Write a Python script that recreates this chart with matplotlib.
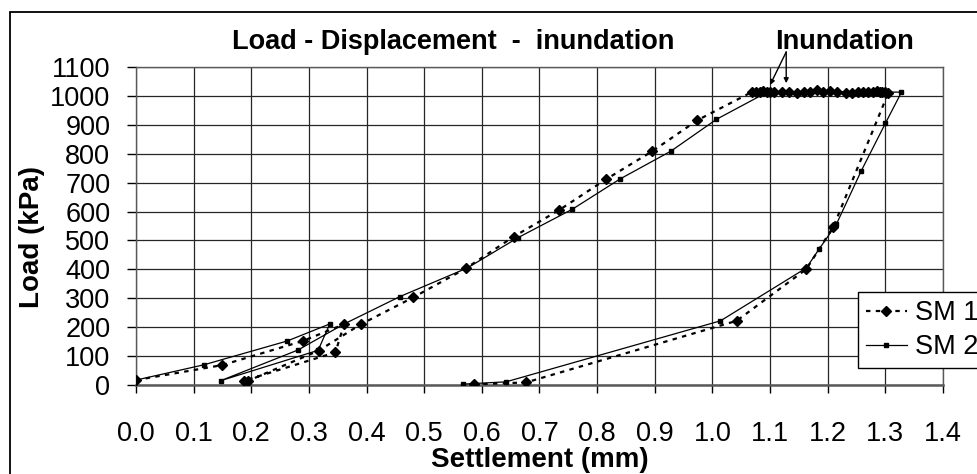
import matplotlib
matplotlib.use("Agg")
import matplotlib.pyplot as plt
from matplotlib.patches import Rectangle

plt.rcParams["font.family"] = ["Liberation Sans", "DejaVu Sans"]

# ── Data ──────────────────────────────────────────────────────────────────────
sm1_x = [0.000, 0.150, 0.289, 0.361, 0.346, 0.188, 0.195, 0.317, 0.390, 0.481,
         0.572, 0.655, 0.734, 0.815, 0.896, 0.974,
         1.068, 1.075, 1.082, 1.088, 1.094, 1.100, 1.106, 1.120, 1.132, 1.146,
         1.158, 1.169, 1.181, 1.192, 1.204, 1.216, 1.232, 1.242, 1.252, 1.262,
         1.270, 1.278, 1.285, 1.290, 1.295, 1.300, 1.305,
         1.210, 1.163, 1.042, 0.677, 0.586]
sm1_y = [17, 69, 152, 210, 113, 15, 15, 119, 210, 303,
         403, 513, 605, 711, 809, 916,
         1013, 1015, 1013, 1016, 1013, 1015, 1012, 1012, 1013, 1010,
         1013, 1012, 1020, 1015, 1016, 1012, 1010, 1011, 1012, 1013,
         1014, 1015, 1016, 1014, 1013, 1012, 1010,
         548, 401, 222, 9, 2]

sm2_x = [0.000, 0.118, 0.262, 0.336, 0.316, 0.147, 0.281, 0.360, 0.458, 0.575,
         0.663, 0.757, 0.840, 0.928, 1.007, 1.097, 1.328,
         1.300, 1.258, 1.215, 1.185, 1.163, 1.014, 0.642, 0.567]
sm2_y = [17, 70, 152, 211, 120, 15, 121, 210, 306, 405,
         510, 608, 713, 809, 919, 1015, 1013,
         905, 740, 556, 470, 405, 222, 11, 3]

x_ticks = [0.0, 0.1, 0.2, 0.3, 0.4, 0.5, 0.6, 0.7, 0.8, 0.9, 1.0, 1.1, 1.2, 1.3, 1.4]
y_ticks = [0, 100, 200, 300, 400, 500, 600, 700, 800, 900, 1000, 1100]

# inundation arrows: common start just under the label, two tips (data units)
arrow_start = (1.128, 1152)
arrow_tips = [(1.100, 1038), (1.128, 1044)]

W, H = 978, 474
fig = plt.figure(figsize=(W / 100, H / 100), dpi=100)
ax = fig.add_axes([136 / W, 1 - 385 / H, 807 / W, 318 / H])

ax.plot(sm1_x, sm1_y, color="black", lw=1.6, ls=(0, (2.0, 2.4)),
        marker="D", ms=5.2, mfc="black", mec="black", label="SM 1", zorder=3)
ax.plot(sm2_x, sm2_y, color="black", lw=0.9, ls="-",
        marker="s", ms=2.4, mfc="black", mec="black", label="SM 2", zorder=3)

ax.set_xlim(0, 1.4)
ax.set_ylim(0, 1100)
ax.set_xticks(x_ticks)
ax.set_xticklabels([f"{v:.1f}" for v in x_ticks])
ax.set_yticks(y_ticks)
ax.grid(True, color="0.15", lw=0.9)
ax.set_axisbelow(True)
for s in ax.spines.values():
    s.set_color("0.35")
    s.set_linewidth(1.0)
ax.spines["bottom"].set_linewidth(1.8)
ax.tick_params(axis="x", direction="out", length=6, width=1, pad=20, labelsize=19.5)
ax.tick_params(axis="y", direction="out", length=6.5, width=1, pad=12, labelsize=19.5)

ax.set_xlabel("Settlement (mm)", fontsize=20, fontweight="bold")
ax.xaxis.set_label_coords(0.5, -0.195)
ax.set_ylabel("Load (kPa)", fontsize=20, fontweight="bold")
ax.yaxis.set_label_coords(-0.113, 0.465)

# Title and annotation
fig.text(453 / W, 1 - 42 / H, "Load - Displacement  -  inundation",
         ha="center", va="center", fontsize=19.5, fontweight="bold")
fig.text(845 / W, 1 - 42 / H, "Inundation",
         ha="center", va="center", fontsize=19.5, fontweight="bold")
for tip in arrow_tips:
    ax.annotate("", xy=tip, xytext=arrow_start, annotation_clip=False,
                arrowprops=dict(arrowstyle="-|>", color="black", lw=1.0,
                                mutation_scale=7, shrinkA=0, shrinkB=0))

leg = fig.legend(loc="upper left", bbox_to_anchor=(858 / W, 1 - 292 / H),
                 borderaxespad=0, fontsize=19.5, frameon=True, fancybox=False,
                 edgecolor="black", framealpha=1, handlelength=1.5,
                 handletextpad=0.3, labelspacing=0.3, borderpad=0.3)
leg.get_frame().set_linewidth(1.0)

# outer chart frame (runs off the right and bottom edges)
fig.add_artist(Rectangle((10 / W, -0.5), 2.0, 1 - 12 / H + 0.5,
                         transform=fig.transFigure, fill=False,
                         ec="black", lw=1.3, zorder=0))

fig.savefig("out.png", dpi=100)
